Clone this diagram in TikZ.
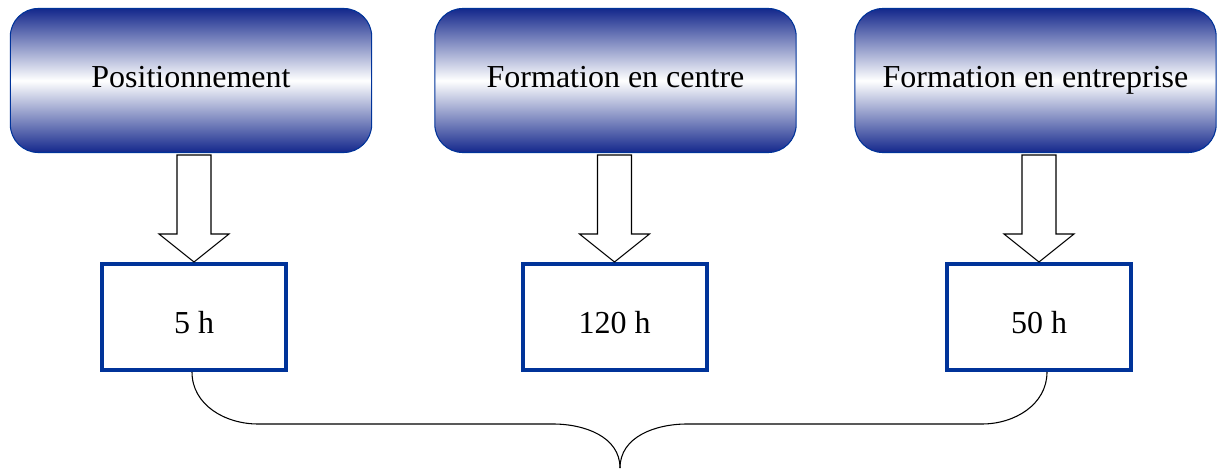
\documentclass[tikz,border=0pt]{standalone}
\usepackage{fontspec}
\setmainfont{Liberation Serif}
\usetikzlibrary{calc}
\definecolor{darkblue}{RGB}{0,51,153}
\definecolor{shadeblue}{RGB}{20,40,140}

\begin{document}
\begin{tikzpicture}[x=0.75pt,y=-0.75pt,
  phase/.style={draw=darkblue,line width=0.8pt,rounded corners=21pt,
    top color=shadeblue,bottom color=shadeblue,middle color=white,
    minimum width=271pt,minimum height=108pt,
    text height=0.68em,text depth=0.22em},
  hours/.style={draw=darkblue,line width=3pt,fill=white,
    minimum width=138pt,minimum height=79.5pt,
    text height=24pt,text depth=0pt},
  blockarrow/.style={draw=black,line width=0.8pt,fill=white}]
\fontsize{24pt}{28pt}\selectfont
\useasboundingbox (0,0) rectangle (1217,470);

\node[phase] (p1) at (191,80.5) {Positionnement};
\node[phase] (p2) at (615.5,80.5) {Formation en centre};
\node[phase] (p3) at (1035.5,80.5) {Formation en entreprise};

\node[hours] (h1) at (194,317) {5 h};
\node[hours] (h2) at (614.5,317) {120 h};
\node[hours] (h3) at (1039,317) {50 h};

% block arrows
\foreach \n in {1,2,3}
  \draw[blockarrow] (h\n.north) -- ++(-35,-28) -- ++(18,0) -- ++(0,-79)
    -- ++(34,0) -- ++(0,79) -- ++(18,0) -- cycle;

% brace
\coordinate (tip) at (620,468);
\coordinate (l) at (258,424);
\coordinate (r) at (982,424);
\draw[line width=0.8pt] ($(h1.south)+(-2,0)$) to[out=-90,in=180] (l)
  -- ($(tip)+(-67,-44)$) to[out=0,in=90] (tip);
\draw[line width=0.8pt] ($(h3.south)+(8,0)$) to[out=-90,in=0] (r)
  -- ($(tip)+(67,-44)$) to[out=180,in=90] (tip);
\end{tikzpicture}
\end{document}
